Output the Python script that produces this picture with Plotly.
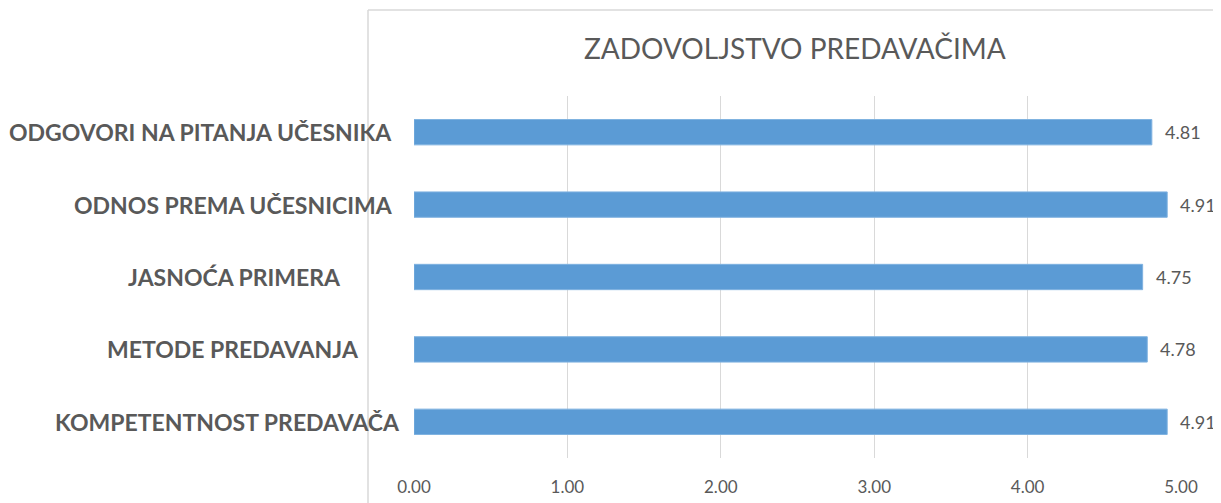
import plotly.graph_objects as go

categories = ["ODGOVORI NA PITANJA UČESNIKA", "ODNOS PREMA UČESNICIMA", "JASNOĆA PRIMERA",
              "METODE PREDAVANJA", "KOMPETENTNOST PREDAVAČA"]
values = [4.81, 4.91, 4.75, 4.78, 4.91]
tick_vals = [0, 1, 2, 3, 4, 5]
tick_text = ["0.00", "1.00", "2.00", "3.00", "4.00", "5.00"]
title = "ZADOVOLJSTVO PREDAVAČIMA"

# page offset from default body margin
OFF = 8
W, H = 1221, 503
L, T = 414 - OFF, 96 - OFF
R = W - (1181 - OFF)
B = H - (458 - OFF)
pw = W - L - R
ph = H - T - B


def px_to_paper_x(px):
    return (px - OFF - L) / pw


def py_to_paper_y(py):
    return 1 - (py - OFF - T) / ph


label_center_px = [201, 233, 234, 233, 227]

fig = go.Figure(go.Bar(
    x=values, y=categories, orientation="h",
    marker=dict(color="#5b9bd5", line=dict(color="#7fb2e0", width=1)),
    width=0.35, hoverinfo="skip",
))

annotations = []
for c, v in zip(categories, values):
    annotations.append(dict(x=v, y=c, xref="x", yref="y", text=f"{v:.2f}", showarrow=False,
                            xanchor="left", xshift=11, font=dict(family="Lato", size=18, color="#595959")))
for c, cx in zip(categories, label_center_px):
    annotations.append(dict(x=px_to_paper_x(cx), y=c, xref="paper", yref="y", text=f"<b>{c}</b>",
                            showarrow=False, xanchor="center",
                            font=dict(family="Lato", size=23, color="#595959")))
annotations.append(dict(x=px_to_paper_x(795), y=py_to_paper_y(48), xref="paper", yref="paper", text=title,
                        showarrow=False, xanchor="center", yanchor="middle",
                        font=dict(family="Lato", size=28, color="#595959")))

x0 = px_to_paper_x(368)
ytop = py_to_paper_y(10)
shapes = [
    dict(type="line", xref="paper", yref="paper", x0=x0, x1=x0, y0=py_to_paper_y(520), y1=ytop,
         line=dict(color="#d9d9d9", width=1.5)),
    dict(type="line", xref="paper", yref="paper", x0=x0, x1=px_to_paper_x(1240), y0=ytop, y1=ytop,
         line=dict(color="#d9d9d9", width=1.5)),
]

fig.update_layout(
    width=W, height=H, margin=dict(l=L, r=R, t=T, b=B),
    plot_bgcolor="white", paper_bgcolor="white", showlegend=False,
    annotations=annotations, shapes=shapes,
    xaxis=dict(range=[0, 5], tickvals=tick_vals, ticktext=tick_text, showgrid=True,
               gridcolor="#d9d9d9", gridwidth=1, zeroline=False, showline=False,
               ticks="outside", ticklen=14, tickcolor="rgba(0,0,0,0)",
               tickfont=dict(family="Lato", size=17, color="#595959"), fixedrange=True),
    yaxis=dict(autorange="reversed", showticklabels=False, showgrid=False, zeroline=False,
               showline=False, fixedrange=True),
)

fig.write_html("out.html")
